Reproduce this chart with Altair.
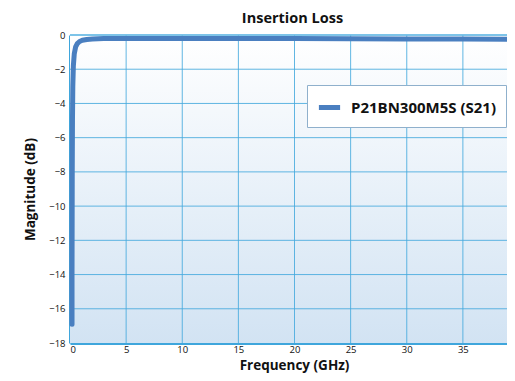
import altair as alt
import pandas as pd

freq = [0.18, 0.18, 0.19, 0.2, 0.22, 0.25, 0.3, 0.38, 0.5, 0.65, 0.85, 1.1, 1.5, 2.0, 3.0, 5.0, 10.0, 15.0, 20.0, 25.0, 30.0, 35.0, 40.0]
mag = [-16.9, -14.0, -11.0, -8.0, -5.0, -3.0, -1.8, -1.1, -0.7, -0.5, -0.38, -0.31, -0.26, -0.23, -0.21, -0.2, -0.2, -0.2, -0.21, -0.22, -0.23, -0.24, -0.25]
series = "P21BN300M5S (S21)"
x_ticks = [0, 5, 10, 15, 20, 25, 30, 35, 40]
y_ticks = [-18, -16, -14, -12, -10, -8, -6, -4, -2, 0]

df = pd.DataFrame({"f": freq, "m": mag, "s": [series] * len(freq)})

W, H = 437, 308     # visible plot area (the 0-40 axis runs a little past the window's right edge)
XR = 449            # pixel length of the full 0-40 axis
FONT = "Open Sans"
GRID = "#45a9dd"

xs = alt.Scale(domain=[0, 40], nice=False, range=[0, XR])
ys = alt.Scale(domain=[-18, 0], nice=False)
xa = alt.Axis(title="Frequency (GHz)", values=x_ticks, titleX=224, titleY=26.5, titleBaseline="alphabetic",
              labelOverlap=False, labelPadding=1)
ya = alt.Axis(title="Magnitude (dB)", values=y_ticks,
              labelOverlap=False, labelPadding=5, titlePadding=11)

grad = alt.LinearGradient(
    gradient="linear",
    stops=[alt.GradientStop(color="#ffffff", offset=0), alt.GradientStop(color="#d2e3f3", offset=1)],
    x1=0, x2=0, y1=0, y2=1,
)

bg = alt.Chart(pd.DataFrame({"a": [0]})).mark_rect(color=grad).encode(
    x=alt.value(0), x2=alt.value(XR), y=alt.value(0), y2=alt.value(H))

vgrid = alt.Chart(pd.DataFrame({"v": x_ticks[1:]})).mark_rule(color=GRID, strokeWidth=1, opacity=0.85).encode(
    x=alt.X("v:Q", scale=xs, axis=xa))
hgrid = alt.Chart(pd.DataFrame({"v": y_ticks[1:]})).mark_rule(color=GRID, strokeWidth=1, opacity=0.85).encode(
    y=alt.Y("v:Q", scale=ys, axis=ya), x=alt.value(0), x2=alt.value(XR))
top = alt.Chart(pd.DataFrame({"v": [0]})).mark_rule(color="#6dbde6", strokeWidth=1.5).encode(
    y=alt.Y("v:Q", scale=ys, axis=ya), x=alt.value(0), x2=alt.value(XR))

line = alt.Chart(df).mark_line(strokeWidth=5, strokeCap="round", strokeJoin="round").encode(
    x=alt.X("f:Q", scale=xs, axis=xa),
    y=alt.Y("m:Q", scale=ys, axis=ya),
    color=alt.Color("s:N", scale=alt.Scale(range=["#4a7fc0"]),
                    legend=alt.Legend(title=None, orient="none", legendX=237, legendY=50,
                                      symbolType="stroke", symbolStrokeWidth=5, symbolSize=450,
                                      labelFont=FONT, labelFontSize=15, labelFontWeight="bold",
                                      labelColor="#111111", fillColor="#ffffff", strokeColor="#8fb0cc",
                                      padding=9, cornerRadius=0, labelOffset=8)),
)

chart = alt.layer(bg, vgrid, hgrid, top, line).properties(
    width=W, height=H,
    title=alt.TitleParams("Insertion Loss", font=FONT, fontSize=14.5, fontWeight="bold", color="#111111",
                          offset=4, dx=4),
    padding={"left": 62, "top": 27, "right": 0, "bottom": 30},
    autosize=alt.AutoSizeParams(type="none"),
).configure_view(stroke=None).configure_axis(
    grid=False, domainColor="#3fa6dc", domainWidth=3, ticks=False,
    labelFont=FONT, labelFontSize=9.5, labelColor="#111111",
    titleFont=FONT, titleFontSize=13.5, titleFontWeight="bold", titleColor="#111111",
)

chart.save("out.html", embed_options={"renderer": "svg", "actions": False})
